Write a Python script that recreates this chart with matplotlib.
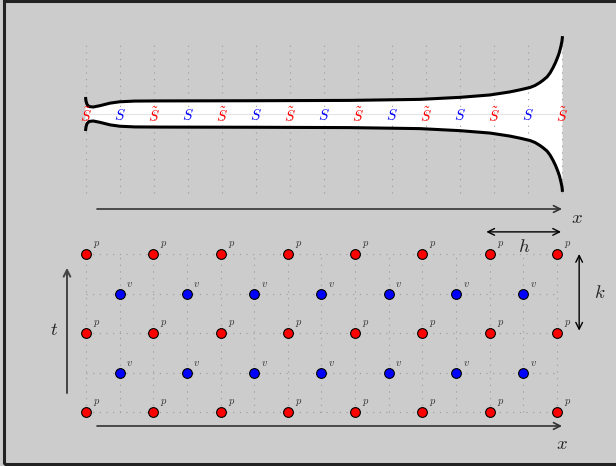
import numpy as np
import matplotlib
matplotlib.use("Agg")
import matplotlib.pyplot as plt
from matplotlib.patches import Rectangle

plt.rcParams["mathtext.fontset"] = "cm"

# ---- upper panel: staggered stations along x and the bounding profile ----
station_index = list(range(15))
station_labels = [r"$\tilde{S}$" if i % 2 == 0 else r"$S$" for i in station_index]
station_colors = ["#ff0000" if i % 2 == 0 else "#0000ff" for i in station_index]

# half-width of the profile (in station spacings) along x
profile_x = [-0.015, 0.0, 0.03, 0.09, 0.21, 0.41, 0.71, 1.0, 1.44, 2.18, 4.82,
             7.76, 9.82, 11.0, 11.88, 12.47, 12.76, 13.06, 13.21, 13.35,
             13.44, 13.56, 13.65, 13.735, 13.81, 13.88, 13.926, 13.97, 14.0,
             14.015]
profile_w = [0.50, 0.38, 0.28, 0.22, 0.205, 0.245, 0.32, 0.36, 0.38, 0.385,
             0.39, 0.40, 0.43, 0.49, 0.56, 0.65, 0.71, 0.78, 0.84, 0.925,
             0.99, 1.09, 1.21, 1.36, 1.515, 1.69, 1.824, 2.00, 2.147, 2.29]

# ---- lower panel: staggered p / v lattice (x index, t index) ----
p_cols = [0, 2, 4, 6, 8, 10, 12, 14]
p_rows = [0, 2, 4]
v_cols = [1, 3, 5, 7, 9, 11, 13]
v_rows = [1, 3]

BG = "#cccccc"
fig = plt.figure(figsize=(6.16, 4.66), dpi=100, facecolor=BG)

# upper axes (pixel rows 0..220)
ax1 = fig.add_axes([0, 1 - 220 / 466, 1, 220 / 466])
ax1.set_xlim(-86 / 34, 530 / 34)
ax1.set_ylim(-(220 - 114) / 34, 114 / 34)
ax1.axis("off")
ax1.patch.set_visible(False)

px = np.array(profile_x)
pw = np.array(profile_w)
poly_x = np.concatenate([px, px[::-1]])
poly_y = np.concatenate([pw, -pw[::-1]])
ax1.fill(poly_x, poly_y, color="white", lw=0, zorder=1)

for i in station_index:
    ax1.plot([i, i], [-2.32, 2.15], color="#9a9a9a", lw=0.8,
             ls=(0, (1, 5)), zorder=2)
ax1.plot([0, 14], [0, 0], color="#e4e4e4", lw=0.8, zorder=2)

ax1.plot(px, pw, color="black", lw=2.2, solid_capstyle="butt",
         solid_joinstyle="round", zorder=3)
ax1.plot(px, -pw, color="black", lw=2.2, solid_capstyle="butt",
         solid_joinstyle="round", zorder=3)

for i, lab, c in zip(station_index, station_labels, station_colors):
    ax1.text(i, -0.05, lab, color=c, fontsize=11, ha="center", va="center",
             zorder=4)

ax1.annotate("", xy=(14.0, -2.794), xytext=(0.324, -2.794),
             arrowprops=dict(arrowstyle="->", color="#333333", lw=1.2,
                             shrinkA=0, shrinkB=0, mutation_scale=12))
ax1.text(14.44, -3.03, r"$x$", fontsize=13.5, ha="center", va="center",
         color="#222222")

# lower axes (pixel rows 220..466)
ax2 = fig.add_axes([0, 0, 1, 246 / 466])
ax2.set_xlim(-86 / 33.64, 530 / 33.64)
ax2.set_ylim((412 - 466) / 39.5, (412 - 220) / 39.5)
ax2.axis("off")
ax2.patch.set_visible(False)

for r in range(5):
    ax2.plot([0, 14], [r, r], color="#9a9a9a", lw=0.8, ls=(0, (1, 5)), zorder=1)
for c in range(15):
    ax2.plot([c, c], [0, 4], color="#9a9a9a", lw=0.8, ls=(0, (1, 5)), zorder=1)

pc, pr = np.meshgrid(p_cols, p_rows)
vc, vr = np.meshgrid(v_cols, v_rows)
ax2.plot(pc.ravel(), pr.ravel(), "o", color="#ff0000", mec="black", mew=0.8,
         ms=7, zorder=3)
ax2.plot(vc.ravel(), vr.ravel(), "o", color="#0000ff", mec="black", mew=0.8,
         ms=7, zorder=3)
for x, y in zip(pc.ravel(), pr.ravel()):
    ax2.annotate(r"$p$", (x, y), xytext=(7.7, 6.5), textcoords="offset points",
                 fontsize=7.5, color="#333333", ha="center", va="center")
for x, y in zip(vc.ravel(), vr.ravel()):
    ax2.annotate(r"$v$", (x, y), xytext=(7.2, 6.5), textcoords="offset points",
                 fontsize=7.5, color="#333333", ha="center", va="center")

# time axis
ax2.annotate("", xy=(-0.565, 3.65), xytext=(-0.565, 0.48),
             arrowprops=dict(arrowstyle="->", color="#444444", lw=1.4,
                             shrinkA=0, shrinkB=0, mutation_scale=12))
ax2.text(-0.95, 2.08, r"$t$", fontsize=13.5, ha="center", va="center",
         color="#222222")

# space axis
ax2.annotate("", xy=(14.15, -0.354), xytext=(0.327, -0.354),
             arrowprops=dict(arrowstyle="->", color="#333333", lw=1.2,
                             shrinkA=0, shrinkB=0, mutation_scale=12))
ax2.text(14.15, -0.81, r"$x$", fontsize=13.5, ha="center", va="center",
         color="#222222")

# step sizes
ax2.annotate("", xy=(14.12, 4.56), xytext=(11.9, 4.56),
             arrowprops=dict(arrowstyle="<->", color="black", lw=1.0,
                             shrinkA=0, shrinkB=0, mutation_scale=12))
ax2.text(13.02, 4.2, r"$h$", fontsize=13.5, ha="center", va="center",
         color="#222222")
ax2.annotate("", xy=(14.66, 4.0), xytext=(14.66, 2.06),
             arrowprops=dict(arrowstyle="<->", color="black", lw=1.0,
                             shrinkA=0, shrinkB=0, mutation_scale=12))
ax2.text(15.28, 3.03, r"$k$", fontsize=13.5, ha="center", va="center",
         color="#222222")

# frame
fig.patches.append(Rectangle((4.3 / 616, 2.5 / 466), 1.05, (463.5 - 1.3) / 466,
                             transform=fig.transFigure, fill=False,
                             ec="#222222", lw=2.2, clip_on=False))

fig.savefig("out.png", dpi=100, facecolor=BG)
